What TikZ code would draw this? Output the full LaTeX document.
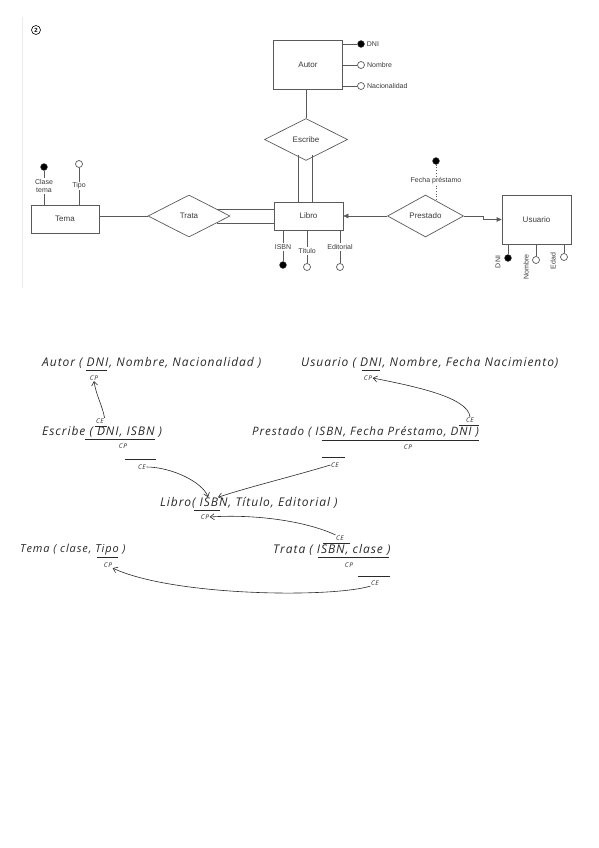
\documentclass[tikz,border=0pt]{standalone}
\usepackage{fontspec}
\setmainfont{Liberation Sans}
\newfontfamily\handfont{Open Sans}[LetterSpace=8]
\usepackage{tikz}
\usetikzlibrary{
	shapes.geometric,
	arrows.meta,
	positioning,
	calc
}

\definecolor{erline}{HTML}{5A5A5A}
\definecolor{ertext}{HTML}{3A3A3A}
\definecolor{ink}{HTML}{2A2A2A}

\begin{document}
\begin{tikzpicture}[
    x=1pt, y=-1pt,
    entity/.style={rectangle, draw=erline, line width=0.7pt, minimum width=69pt, font=\fontsize{8}{9}\selectfont, text=ertext},
    relation/.style={diamond, draw=erline, line width=0.7pt, minimum width=82pt, minimum height=42pt, inner sep=0pt, font=\fontsize{8}{9}\selectfont, text=ertext},
    keydot/.style={circle, draw=erline, fill=black, inner sep=0pt, minimum size=7pt},
    attrdot/.style={circle, draw=erline, fill=white, line width=0.7pt, inner sep=0pt, minimum size=7pt},
    attr/.style={font=\fontsize{7}{8}\selectfont, text=ertext, inner sep=1pt, align=center},
    conn/.style={draw=erline, line width=0.7pt},
    handtext/.style={font=\handfont\itshape\fontsize{12}{14}\selectfont, text=ink, anchor=west, inner sep=0pt},
    tag/.style={font=\handfont\itshape\fontsize{6.5}{7}\selectfont, text=ink, inner sep=0.5pt},
    keyline/.style={draw=ink, line width=0.6pt},
    fkarrow/.style={draw=ink, line width=0.6pt, -{Straight Barb[length=4pt,width=6pt]}}
]
\fill[white] (0,0) rectangle (598,848);
\useasboundingbox (0,0) rectangle (598,848);

% Screenshot edge and number
\draw[gray!15] (22,17) -- (22,288);
\node[circle, draw, line width=0.6pt, inner sep=0pt, minimum size=9pt, font=\fontsize{6}{6}\selectfont\bfseries] (num) at (36,30) {2};

% Entities and relations
\node[entity, minimum height=49pt] (autor) at (308,64.5) {Autor};
\node[relation, minimum width=83pt] (escribe) at (306,139.5) {Escribe};
\node[entity, minimum height=28pt] (libro) at (308.5,216) {Libro};
\node[entity, minimum width=68pt, minimum height=28pt] (tema) at (65,219) {Tema};
\node[relation] (trata) at (189,216) {Trata};
\node[relation, minimum width=76pt] (prestado) at (425.5,216) {Prestado};
\node[entity, minimum height=49pt] (usuario) at (536.5,219.5) {Usuario};

% Autor attributes
\node[keydot] (autDNI) at (361,44) {};
\node[attrdot] (autNom) at (361,65) {};
\node[attrdot] (autNac) at (361,86) {};
\node[attr, right=1pt of autDNI] (autDNIlbl) {DNI};
\node[attr, right=1pt of autNom] (autNomlbl) {Nombre};
\node[attr, right=1pt of autNac] (autNaclbl) {Nacionalidad};
\draw[conn] (autDNI) -- (autDNI -| autor.east);
\draw[conn] (autNom) -- (autNom -| autor.east);
\draw[conn] (autNac) -- (autNac -| autor.east);

% Tema attributes
\node[keydot] (temaClaseDot) at (44,167) {};
\node[attr] (temaClase) at (44,186) {Clase\\tema};
\node[attrdot] (temaTipoDot) at (79,164) {};
\node[attr] (temaTipo) at (79,186) {Tipo};
\draw[conn] (temaClaseDot) -- (temaClase) -- (temaClase.center |- tema.north);
\draw[conn] (temaTipoDot) -- (temaTipo) -- (temaTipo.center |- tema.north);

% Libro attributes
\node[keydot] (isbnDot) at (283,265) {};
\node[attr] (isbnLbl) at (283,247) {ISBN};
\node[attrdot] (tituloDot) at (307,267) {};
\node[attr] (tituloLbl) at (307,251) {Título};
\node[attrdot] (editDot) at (340,267) {};
\node[attr] (editLbl) at (340,247) {Editorial};
\draw[conn] (isbnDot) -- (isbnLbl) -- (isbnLbl.center |- libro.south);
\draw[conn] (tituloDot) -- (tituloLbl) -- (tituloLbl.center |- libro.south);
\draw[conn] (editDot) -- (editLbl) -- (editLbl.center |- libro.south);

% Usuario attributes
\node[keydot] (usuDNIdot) at (508,258) {};
\node[attrdot] (usuNomDot) at (536,260) {};
\node[attrdot] (usuEdadDot) at (564,257) {};
\node[attr, rotate=90] (usuDNI) at (498,262) {DNI};
\node[attr, rotate=90] (usuNom) at (526,267) {Nombre};
\node[attr, rotate=90] (usuEdad) at (553,261) {Edad};
\draw[conn] (usuDNIdot) -- (usuDNIdot |- usuario.south);
\draw[conn] (usuNomDot) -- (usuNomDot |- usuario.south);
\draw[conn] (usuEdadDot) -- (usuEdadDot |- usuario.south);

% Prestado attribute
\node[keydot] (fechaDot) at (436,161) {};
\node[attr] (fechaLbl) at (436,181) {Fecha préstamo};
\coordinate (fechaEnd) at (436,201);
\draw[conn, dotted] (fechaDot) -- (fechaLbl) -- (fechaEnd);

% Connections
\draw[conn] (escribe.north) -- (escribe.north |- autor.south);
\draw[conn] ($(libro.north)+(-10,0)$) -- ++(0,-47);
\draw[conn] ($(libro.north)+(4,0)$) -- ++(0,-47);
\draw[conn] (trata.west) -- (trata.west -| tema.east);
\draw[conn] ($(libro.west)+(0,-7)$) -- ++(-57,0);
\draw[conn] ($(libro.west)+(0,7)$) -- ++(-57,0);
\draw[conn, -{Triangle[length=5pt,width=4.5pt]}] (prestado) -- (libro);
\draw[conn, -{Triangle[length=5pt,width=4.5pt]}] (prestado.east) -- ++(19,0) |- (usuario.west);

% Relational schema
\node[handtext] (autorRel) at (42,363) {Autor ( DNI, Nombre, Nacionalidad )};
\node[handtext] (usuarioRel) at (301,363) {Usuario ( DNI, Nombre, Fecha Nacimiento)};
\node[handtext] (escribeRel) at (42,432) {Escribe ( DNI, ISBN )};
\node[handtext, font=\handfont\itshape\fontsize{11.6}{14}\selectfont] (prestadoRel) at (252,432) {Prestado ( ISBN, Fecha Préstamo, DNI )};
\node[handtext] (libroRel) at (160,503) {Libro( ISBN, Título, Editorial )};
\node[handtext, font=\handfont\itshape\fontsize{11}{14}\selectfont] (temaRel) at (20,550) {Tema ( clase, Tipo )};
\node[handtext] (trataRel) at (273,550) {Trata ( ISBN, clase )};

% Keys
\draw[keyline] (86,370) -- (107,370);
\node[tag] (autCP) at (94,378) {CP};
\draw[keyline] (362,370) -- (380,370);
\node[tag] (usuCP) at (368,378) {CP};

\node[tag] (escCE) at (100,421) {CE};
\draw[keyline] (95,426) -- (107,426);
\draw[keyline] (85,439) -- (155,439);
\node[tag] (escCP) at (123,446) {CP};
\draw[keyline] (125,459) -- (156,459);
\node[tag] (escCE2) at (142,467) {CE};

\node[tag] (preCE) at (470,420) {CE};
\draw[keyline] (459,425) -- (479,425);
\draw[keyline] (322,440) -- (479,440);
\node[tag] (preCP) at (408,447) {CP};
\draw[keyline] (322,457) -- (345,457);
\node[tag] (preCE2) at (335,465) {CE};

\draw[keyline] (194,510) -- (220,510);
\node[tag] (libCP) at (205,517) {CP};

\draw[keyline] (97,557) -- (118,557);
\node[tag] (temaCP) at (108,565) {CP};

\node[tag] (traCE) at (340,538) {CE};
\draw[keyline] (323,543) -- (350,543);
\draw[keyline] (318,557) -- (389,557);
\node[tag] (traCP) at (349,565) {CP};
\draw[keyline] (358,576) -- (390,576);
\node[tag] (traCE2) at (375,583) {CE};

% References
\draw[fkarrow] (escCE.north east) .. controls +(-2,-12) and +(2,14) .. (autCP.south);
\draw[fkarrow] (preCE.north) .. controls +(-2,-20) and +(40,8) .. (usuCP.east);
\draw[fkarrow] (escCE2.east) .. controls +(25,0) and +(-5,-15) .. (libroRel.north -| 208,0);
\draw[fkarrow] (preCE2.west) .. controls +(-40,12) and +(30,-10) .. (libroRel.north -| 218,0);
\draw[fkarrow] (traCE.north west) .. controls +(-30,-14) and +(45,-3) .. (libCP.east);
\draw[fkarrow] (traCE2.south west) .. controls +(-40,12) and +(60,28) .. (temaCP.south east);

\end{tikzpicture}
\end{document}
